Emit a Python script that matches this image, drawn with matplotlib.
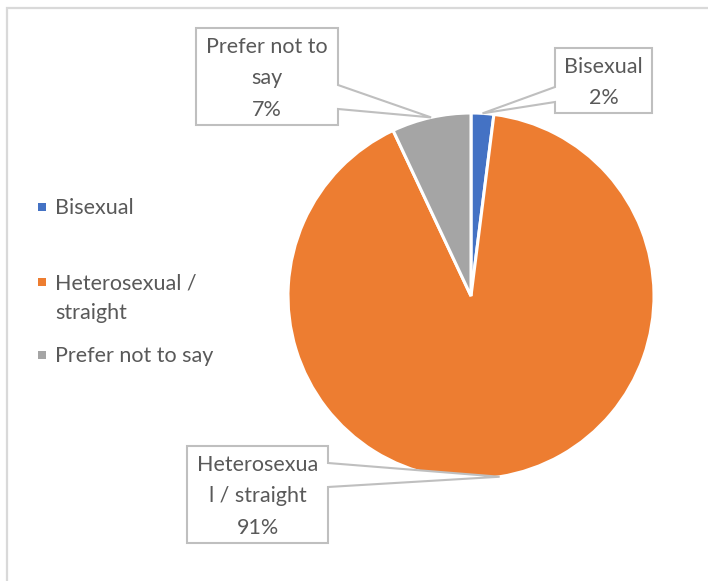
import numpy as np
import matplotlib.pyplot as plt
from matplotlib.patches import Polygon, Rectangle

# ---- data ----
categories = ['Bisexual', 'Heterosexual / straight', 'Prefer not to say']
values = [2, 91, 7]
colors = ['#4472C4', '#ED7D31', '#A5A5A5']
legend_labels = ['Bisexual', 'Heterosexual /\nstraight', 'Prefer not to say']
callout_labels = ['Bisexual', 'Heterosexua\nl / straight', 'Prefer not to\nsay']

W, H = 708, 581
TEXT = '#595959'
FONT = 'Lato'
FS = 15.5
LS = 1.72


def Y(py):
    # pixel row (from top) -> data y
    return H - py


fig = plt.figure(figsize=(W / 100, H / 100), dpi=100)
ax = fig.add_axes([0, 0, 1, 1])

cx, cy, r = 471, Y(296), 183
wedges, _ = ax.pie(values, colors=colors, startangle=90, counterclock=False,
                   center=(cx, cy), radius=r,
                   wedgeprops=dict(edgecolor='white', linewidth=2.2))
ax.set_xlim(0, W)
ax.set_ylim(0, H)
ax.set_aspect('equal')
ax.axis('off')

# chart border (only top/left fall inside the image)
ax.plot([6.5, 6.5, W + 5], [-5, Y(8), Y(8)], color='#D9D9D9', lw=1.6,
        solid_joinstyle='miter')

# legend
leg_y = [207, 282, 355]
for lab, col, py in zip(legend_labels, colors, leg_y):
    ax.add_patch(Rectangle((38, Y(py) - 4), 8, 8, color=col, lw=0))
    ax.text(55, Y(py) + 9, lab, fontsize=FS, family=FONT, color=TEXT,
            va='top', ha='left', linespacing=1.6)

# callout boxes: (x0, y0, x1, y1) in pixel rows, side the pointer leaves from,
# and the two rows where the pointer meets the box
boxes = [
    ((555, 48, 652, 113), 'left', (87, 102)),
    ((187, 446, 328, 543), 'right', (463, 487)),
    ((196, 28, 338, 125), 'right', (85, 109)),
]

cum = np.cumsum([0] + values[:-1])
for i, (val, lab) in enumerate(zip(values, callout_labels)):
    mid = (cum[i] + val / 2) / sum(values) * 2 * np.pi
    tip = (cx + r * np.sin(mid), cy + r * np.cos(mid))
    (x0, y0, x1, y1), side, (j0, j1) = boxes[i]
    if side == 'right':
        poly = [(x0, Y(y0)), (x1, Y(y0)), (x1, Y(j0)), tip,
                (x1, Y(j1)), (x1, Y(y1)), (x0, Y(y1))]
    else:
        poly = [(x0, Y(y0)), (x1, Y(y0)), (x1, Y(y1)), (x0, Y(y1)),
                (x0, Y(j1)), tip, (x0, Y(j0))]
    ax.add_patch(Polygon(poly, closed=True, facecolor='white',
                         edgecolor='#BFBFBF', lw=1.5, zorder=3))
    ax.text((x0 + x1) / 2, Y((y0 + y1) / 2) - 2, f'{lab}\n{val}%',
            fontsize=FS, family=FONT, color=TEXT, ha='center', va='center',
            linespacing=LS, zorder=4)

fig.savefig('out.png', dpi=100, facecolor='white')
